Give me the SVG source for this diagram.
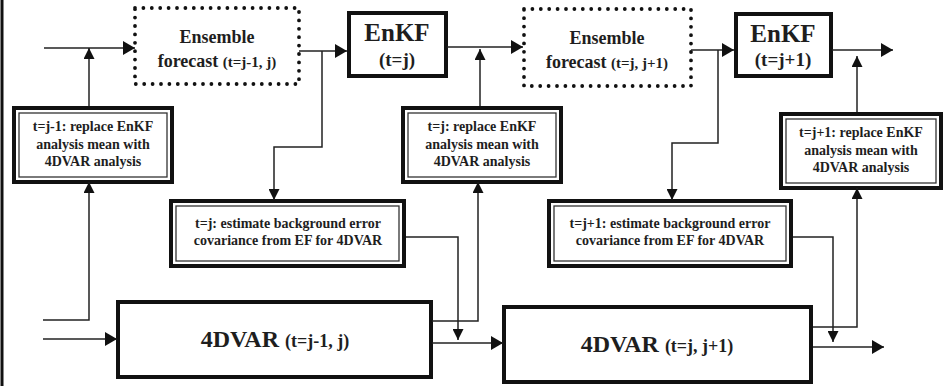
<svg xmlns="http://www.w3.org/2000/svg" width="945" height="386" viewBox="0 0 945 386">
<defs>
<style>
text{font-family:'Liberation Serif','DejaVu Serif',serif;font-weight:700;fill:#1e1e1e;text-anchor:middle}
.dot{fill:none;stroke:#111;stroke-width:3.8;stroke-dasharray:0 8.4;stroke-linecap:round}
.thick{fill:#fff;stroke:#111;stroke-width:4}
.inner{fill:none;stroke:#333;stroke-width:1.3}
.c{fill:none;stroke:#222;stroke-width:1.5}
.big{font-size:18px}
.sm{font-size:15px}
.enk{font-size:25px}
.par{font-size:19px}
.lab{font-size:14px}
.v{font-size:24px}
.vp{font-size:18px}
</style>
<marker id="a" viewBox="0 0 12 14" refX="12" refY="7" markerWidth="12" markerHeight="14" markerUnits="userSpaceOnUse" orient="auto"><path d="M0,0L12,7L0,14z" fill="#111"/></marker>
<marker id="s" viewBox="0 0 12 12" refX="12" refY="6" markerWidth="11" markerHeight="11" markerUnits="userSpaceOnUse" orient="auto"><path d="M0,0L12,6L0,12z" fill="#111"/></marker>
</defs>
<rect width="945" height="386" fill="#fff"/>
<line x1="2" y1="0" x2="2" y2="386" stroke="#111" stroke-width="3"/>

<g id="ef1"><rect class="dot" x="135" y="8" width="164" height="76"/>
<text x="217" y="43" class="big">Ensemble</text>
<text x="217" y="67" class="big">forecast <tspan class="sm">(t=j-1, j)</tspan></text></g>

<g id="enkf1"><rect class="thick" x="349" y="13" width="97" height="63"/>
<text x="397" y="41" class="enk">EnKF</text>
<text x="397" y="66" class="par">(t=j)</text></g>

<g id="ef2"><rect class="dot" x="524" y="9" width="167" height="77"/>
<text x="607" y="44" class="big">Ensemble</text>
<text x="607" y="68" class="big">forecast <tspan class="sm">(t=j, j+1)</tspan></text></g>

<g id="enkf2"><rect class="thick" x="736" y="14" width="95" height="62"/>
<text x="783" y="42" class="enk">EnKF</text>
<text x="783" y="66" class="par">(t=j+1)</text></g>

<g id="rep1"><rect class="thick" x="14" y="108" width="158" height="74"/><rect class="inner" x="19" y="113" width="148" height="64"/>
<text x="93" y="131" class="lab">t=j-1: replace EnKF</text>
<text x="93" y="149" class="lab">analysis mean with</text>
<text x="93" y="166" class="lab">4DVAR analysis</text></g>

<g id="rep2"><rect class="thick" x="403" y="108" width="158" height="74"/><rect class="inner" x="408" y="113" width="148" height="64"/>
<text x="482" y="131" class="lab">t=j: replace EnKF</text>
<text x="482" y="149" class="lab">analysis mean with</text>
<text x="482" y="166" class="lab">4DVAR analysis</text></g>

<g id="rep3"><rect class="thick" x="781" y="114" width="160" height="74"/><rect class="inner" x="786" y="119" width="150" height="64"/>
<text x="861" y="137" class="lab">t=j+1: replace EnKF</text>
<text x="861" y="155" class="lab">analysis mean with</text>
<text x="861" y="172" class="lab">4DVAR analysis</text></g>

<g id="est1"><rect class="thick" x="171" y="201" width="233" height="65"/><rect class="inner" x="176" y="206" width="223" height="55"/>
<text x="288" y="228" class="lab">t=j: estimate background error</text>
<text x="288" y="245" class="lab">covariance from EF for 4DVAR</text></g>

<g id="est2"><rect class="thick" x="549" y="201" width="242" height="65"/><rect class="inner" x="554" y="206" width="232" height="55"/>
<text x="670" y="228" class="lab">t=j+1: estimate background error</text>
<text x="670" y="245" class="lab">covariance from EF for 4DVAR</text></g>

<g id="var1"><rect class="thick" x="118" y="302" width="313" height="75"/>
<text x="275" y="347" class="v">4DVAR <tspan class="vp">(t=j-1, j)</tspan></text></g>

<g id="var2"><rect class="thick" x="504" y="307" width="307" height="75"/>
<text x="657" y="352" class="v">4DVAR <tspan class="vp">(t=j, j+1)</tspan></text></g>

<g id="connectors">
<line class="c" x1="44" y1="48" x2="135" y2="48" marker-end="url(#a)"/>
<line class="c" x1="89" y1="106" x2="89" y2="48" marker-end="url(#s)"/>
<path class="c" d="M43,320H89V182" marker-end="url(#s)"/>
<line class="c" x1="43" y1="339" x2="117" y2="339" marker-end="url(#a)"/>
<line class="c" x1="299" y1="51" x2="347" y2="51" marker-end="url(#a)"/>
<path class="c" d="M322,51V147H274V200" marker-end="url(#s)"/>
<path class="c" d="M406,237H458V340" marker-end="url(#s)"/>
<path class="c" d="M432,321H478V182" marker-end="url(#s)"/>
<line class="c" x1="432" y1="343" x2="503" y2="343" marker-end="url(#a)"/>
<line class="c" x1="447" y1="47" x2="523" y2="47" marker-end="url(#a)"/>
<line class="c" x1="480" y1="106" x2="480" y2="49" marker-end="url(#s)"/>
<line class="c" x1="691" y1="50" x2="734" y2="50" marker-end="url(#a)"/>
<path class="c" d="M718,50V143H672V200" marker-end="url(#s)"/>
<path class="c" d="M793,237H833V342" marker-end="url(#s)"/>
<path class="c" d="M813,327H857V188" marker-end="url(#s)"/>
<line class="c" x1="813" y1="347" x2="884" y2="347" marker-end="url(#a)"/>
<line class="c" x1="832" y1="50" x2="893" y2="50" marker-end="url(#a)"/>
<line class="c" x1="857" y1="112" x2="857" y2="56" marker-end="url(#s)"/>
</g>
</svg>
